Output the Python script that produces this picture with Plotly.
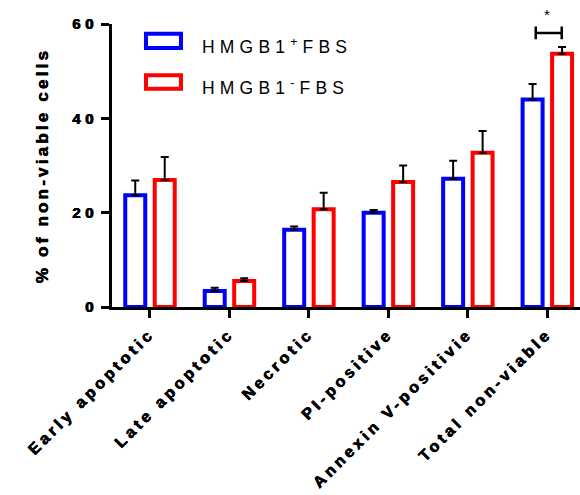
import plotly.graph_objects as go

# Cell viability categories and group means / SEM (% of non-viable cells)
categories = ["Early apoptotic", "Late apoptotic", "Necrotic",
              "PI-positive", "Annexin V-positivie", "Total non-viable"]
hmgb1_pos_mean = [23.7, 3.4, 16.4, 20.0, 27.2, 44.0]
hmgb1_pos_err = [3.1, 0.7, 0.65, 0.55, 3.8, 3.3]
hmgb1_neg_mean = [26.9, 5.5, 20.7, 26.5, 32.7, 53.7]
hmgb1_neg_err = [4.9, 0.6, 3.5, 3.5, 4.6, 1.4]
y_ticks = [0, 20, 40, 60]

BLUE = "#0000FF"
RED = "#FF0000"
FONT = "Liberation Sans, Arial, sans-serif"
HEAVY = "0.5px 0 0 #000, -0.3px 0 0 #000"


def spaced(text, px, bold=False):
    inner = f"<b>{text}</b>" if bold else text
    return f'<span style="letter-spacing:{px}px">{inner}</span>'


fig = go.Figure()
for mean, err, color, name in [
    (hmgb1_pos_mean, hmgb1_pos_err, BLUE, "HMGB1+FBS"),
    (hmgb1_neg_mean, hmgb1_neg_err, RED, "HMGB1-FBS"),
]:
    fig.add_trace(go.Bar(
        x=categories, y=mean, name=name,
        marker=dict(color="white", line=dict(color=color, width=4)),
        error_y=dict(type="data", array=err, arrayminus=[0] * len(err),
                     symmetric=False, color="black", thickness=2, width=4),
        showlegend=False,
    ))

# Legend drawn as outlined boxes with labels
legend_rows = [(BLUE, "HMGB1<sup>+</sup>FBS", 0.9657, 0.9152),
               (RED, "HMGB1<sup>-</sup>FBS", 0.8187, 0.7714)]
for color, label, ytop, ybot in legend_rows:
    fig.add_shape(type="rect", xref="paper", yref="paper",
                  x0=0.0726, x1=0.1474, y0=ybot, y1=ytop,
                  line=dict(color=color, width=4), fillcolor="white")
    fig.add_annotation(xref="paper", yref="paper", x=0.188,
                       y=(ytop + ybot) / 2 - 0.018,
                       xanchor="left", yanchor="middle", showarrow=False,
                       text=spaced(label, 5.2),
                       font=dict(family=FONT, size=17.5, color="black"))

# Significance bracket between the two "Total non-viable" bars
last = len(categories) - 1
top = max(hmgb1_pos_mean[last] + hmgb1_pos_err[last],
          hmgb1_neg_mean[last] + hmgb1_neg_err[last])
by = top + 3.0
bx0, bx1 = last - 0.146, last + 0.181
fig.add_shape(type="path", xref="x", yref="y",
              path=f"M{bx0},{by - 1.35} L{bx0},{by + 1.35} M{bx0},{by} L{bx1},{by} "
                   f"M{bx1},{by - 1.35} L{bx1},{by + 1.35}",
              line=dict(color="black", width=2.5))
fig.add_annotation(x=last, y=(by + 1.6) / 60, xref="x", yref="paper", text="*",
                   showarrow=False, yanchor="bottom",
                   font=dict(family=FONT, size=15, color="black"))

fig.update_layout(
    width=580, height=495,
    template="none",
    paper_bgcolor="white", plot_bgcolor="white",
    margin=dict(l=112, r=0, t=24, b=188),
    barmode="group", bargap=0.258, bargroupgap=0.322,
    font=dict(family=FONT, color="black"),
)
fig.update_xaxes(
    range=[-0.478, 5.411], showgrid=False, zeroline=False,
    showline=True, linecolor="black", linewidth=3,
    ticks="outside", ticklen=8, tickwidth=3, tickcolor="black",
    tickvals=categories, ticktext=[spaced(c, 3.7, True) for c in categories],
    tickangle=-45, tickfont=dict(family=FONT, size=16, shadow=HEAVY),
    automargin=False,
)
fig.update_yaxes(
    range=[0, 60], showgrid=False, zeroline=False,
    showline=True, linecolor="black", linewidth=3,
    ticks="outside", ticklen=8, tickwidth=3, tickcolor="black",
    tickvals=y_ticks, ticktext=[spaced(str(v), 4.5, True) for v in y_ticks],
    tickfont=dict(family=FONT, size=15, shadow=HEAVY),
    title=dict(text=spaced("% of non-viable cells", 3.2, True),
               font=dict(family=FONT, size=17, shadow=HEAVY), standoff=20),
    automargin=False,
)

fig.write_html("out.html")
